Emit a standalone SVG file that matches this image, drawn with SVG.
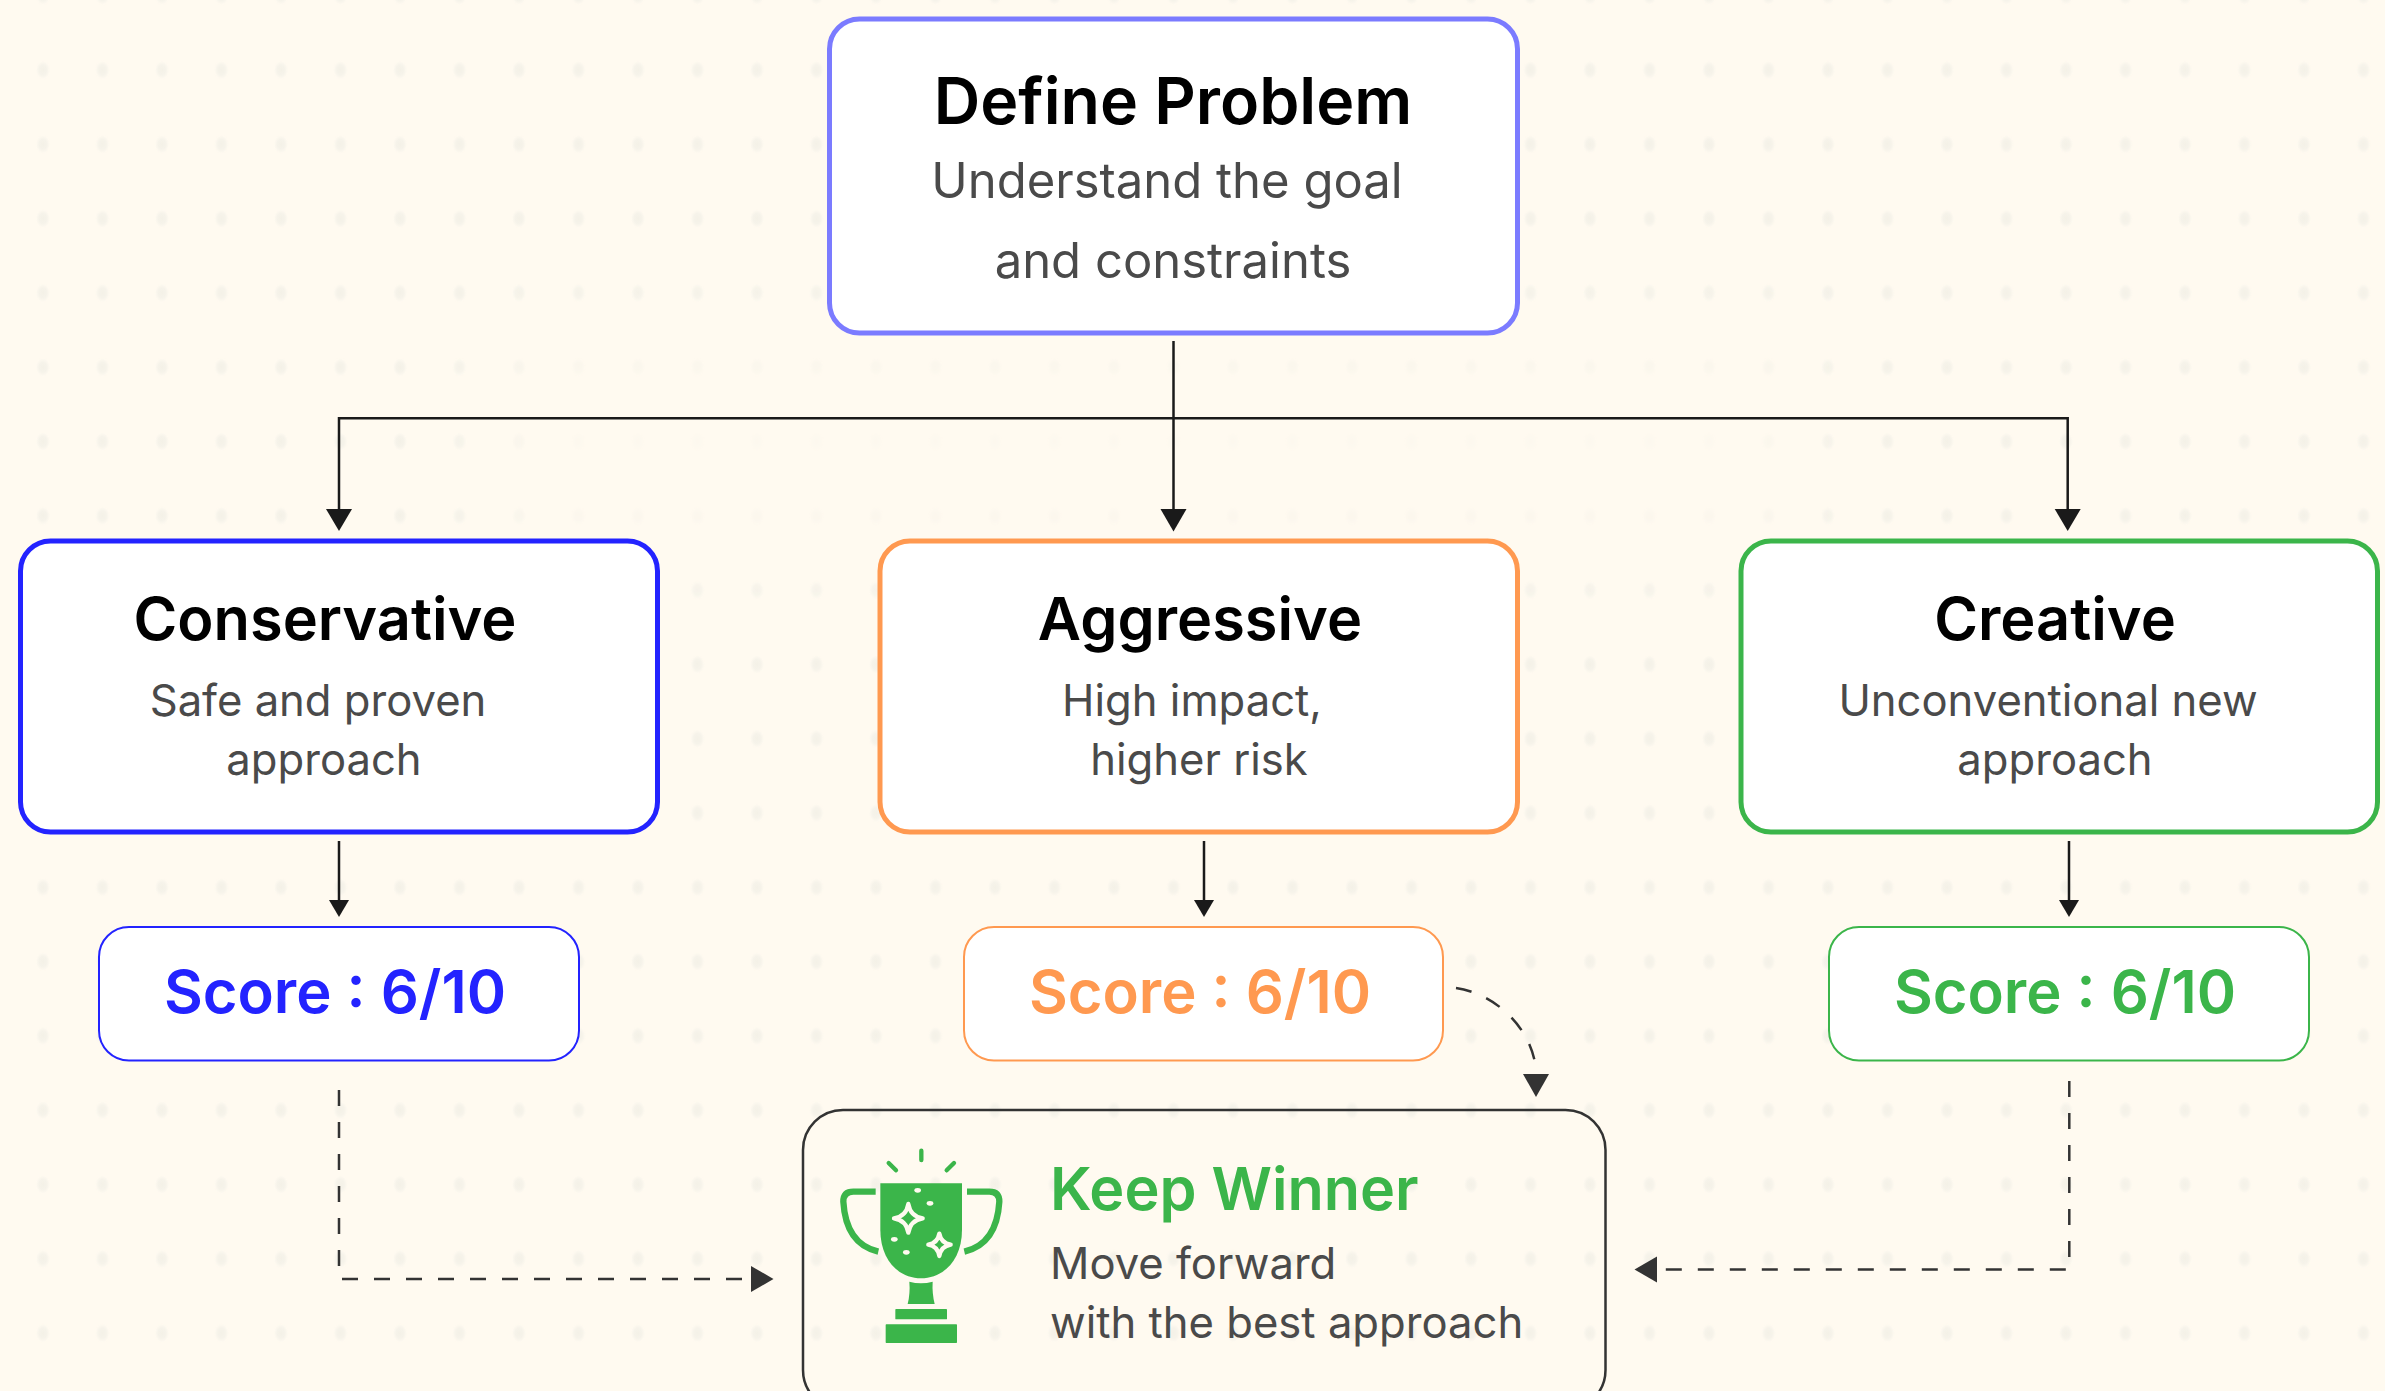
<svg xmlns="http://www.w3.org/2000/svg" width="2385" height="1391" viewBox="0 0 2385 1391">
<style>
text{font-family:Inter,"Liberation Sans",sans-serif}
.t{font-size:64.4px;font-weight:600;fill:#000;text-anchor:middle}
.h{font-size:59.5px;font-weight:600;fill:#000;text-anchor:middle}
.s{font-size:49px;font-weight:400;fill:#4a4a4a;text-anchor:middle}
.d{font-size:43.6px;font-weight:400;fill:#4a4a4a;text-anchor:middle}
.c{font-size:59.7px;font-weight:600;text-anchor:middle}
.box{fill:#fff;stroke-width:5}
.score{fill:#fff;stroke-width:2}
.l{fill:none;stroke:#1a1a1a;stroke-width:2.5}
.dash{fill:none;stroke:#333;stroke-width:2.5;stroke-dasharray:16 16}
</style>
<defs>
<radialGradient id="dotfill"><stop offset="0" stop-color="#f4f1e7"/><stop offset=".55" stop-color="#f6f3ea"/><stop offset="1" stop-color="#fffaf0"/></radialGradient>
<pattern id="dots" x="13.25" y="32.85" width="59.5" height="74.3" patternUnits="userSpaceOnUse">
<ellipse cx="29.75" cy="37.15" rx="7" ry="9" fill="url(#dotfill)"/>
</pattern>
<filter id="soft" x="-20%" y="-40%" width="140%" height="180%"><feGaussianBlur stdDeviation="40"/></filter>
<mask id="fade" maskUnits="userSpaceOnUse" x="0" y="0" width="2385" height="1391"><rect width="2385" height="1391" fill="#fff"/><rect x="500" y="340" width="1300" height="220" fill="#333" filter="url(#soft)"/></mask>
</defs>
<rect width="2385" height="1391" fill="#fffaf0"/>
<rect width="2385" height="1391" fill="url(#dots)" mask="url(#fade)"/>
<g id="connectors">
<path class="l" d="M1173.500 341V509"/>
<path class="l" d="M339 509V418.300H2067.700V509"/>
<polygon points="1160.500,509 1186.500,509 1173.500,531.500" fill="#1a1a1a"/>
<polygon points="326,509 352,509 339,531" fill="#1a1a1a"/>
<polygon points="2054.700,509 2080.700,509 2067.700,531" fill="#1a1a1a"/>
<path class="l" d="M339 841V900M1204 841V900M2069 841V900"/>
<polygon points="329,900 349,900 339,917" fill="#1a1a1a"/>
<polygon points="1194,900 1214,900 1204,917" fill="#1a1a1a"/>
<polygon points="2059,900 2079,900 2069,917" fill="#1a1a1a"/>
<path class="dash" d="M339 1090V1279H745"/>
<polygon points="751,1266 773.500,1279 751,1292" fill="#333"/>
<path class="dash" d="M2069.300 1081V1269.500H1665"/>
<polygon points="1657,1256.500 1634.500,1269.500 1657,1282.500" fill="#333"/>
<path class="dash" d="M1456 988C1490 993 1525 1020 1534.300 1059.300"/>
<polygon points="1523,1074 1549,1074 1536,1097" fill="#333"/>
</g>
<g id="define"><rect class="box" x="829.500" y="19" width="688" height="314" rx="30" stroke="#7b7bff"/>
<text class="t" x="1173" y="124">Define Problem</text>
<text class="s" x="1167" y="197.500">Understand the goal</text>
<text class="s" x="1173" y="277.500">and constraints</text></g>
<g id="conservative"><rect class="box" x="20.500" y="541" width="637" height="291" rx="30" stroke="#2323ff"/>
<text class="h" x="325" y="640">Conservative</text>
<text class="d" x="318" y="716">Safe and proven</text>
<text class="d" x="324" y="775">approach</text></g>
<g id="aggressive"><rect class="box" x="880" y="541" width="637.500" height="291" rx="30" stroke="#ff9950"/>
<text class="h" x="1200" y="640">Aggressive</text>
<text class="d" x="1192" y="716">High impact,</text>
<text class="d" x="1199" y="775">higher risk</text></g>
<g id="creative"><rect class="box" x="1741" y="541" width="636.500" height="291" rx="30" stroke="#3bb54a"/>
<text class="h" x="2055" y="640">Creative</text>
<text class="d" x="2048" y="716">Unconventional new</text>
<text class="d" x="2055" y="775">approach</text></g>
<g id="score1"><rect class="score" x="99" y="927" width="480" height="133.500" rx="30" stroke="#2323ff"/><text class="c" x="335" y="1013" fill="#2323ff">Score : 6/10</text></g>
<g id="score2"><rect class="score" x="964" y="927" width="479" height="133.500" rx="30" stroke="#ff9950"/><text class="c" x="1200" y="1013" fill="#ff9950">Score : 6/10</text></g>
<g id="score3"><rect class="score" x="1829" y="927" width="480" height="133.500" rx="30" stroke="#3bb54a"/><text class="c" x="2065" y="1013" fill="#3bb54a">Score : 6/10</text></g>
<g id="winner"><rect x="803" y="1110" width="802.500" height="300" rx="40" fill="none" stroke="#333" stroke-width="2.500"/>
<g transform="translate(820 1130) scale(.33333)" fill="#3bb54a">
<path d="M181 160H426V300C426 390 370 445 303 445C236 445 181 390 181 300Z"/>
<path d="M268 455Q303 465 338 455Q336 490 344 522H263Q271 490 268 455Z"/>
<rect x="226" y="537" width="155" height="31" rx="2"/><rect x="197" y="583" width="214" height="56" rx="2"/>
<path d="M167 185H100Q70 185 70 215C75 300 110 350 175 365M441 185H508Q538 185 538 215C533 300 498 350 433 365" fill="none" stroke="#3bb54a" stroke-width="19"/>
<path d="M304 62V90M206 99L228 121M402 99L380 121" fill="none" stroke="#3bb54a" stroke-width="13" stroke-linecap="round"/>
<g fill="#3bb54a" stroke="#fffaf0" stroke-width="13" stroke-linejoin="round"><path d="M265 222Q271 259 308 265Q271 271 265 308Q259 271 222 265Q259 259 265 222Z"/><path d="M358 311Q363 339 392 344Q363 349 358 378Q353 349 325 344Q353 339 358 311Z"/></g>
<g fill="#fffaf0"><ellipse cx="293" cy="181" rx="10" ry="7"/><ellipse cx="330" cy="220" rx="10" ry="7"/><ellipse cx="223" cy="328" rx="10" ry="7"/><ellipse cx="259" cy="367" rx="10" ry="7"/></g>
</g>
<text x="1050" y="1210" font-size="59.3" font-weight="600" fill="#3bb54a">Keep Winner</text>
<text x="1050" y="1279" font-size="43.6" fill="#4a4a4a">Move forward</text>
<text x="1050" y="1338" font-size="43.6" fill="#4a4a4a">with the best approach</text></g>
</svg>
